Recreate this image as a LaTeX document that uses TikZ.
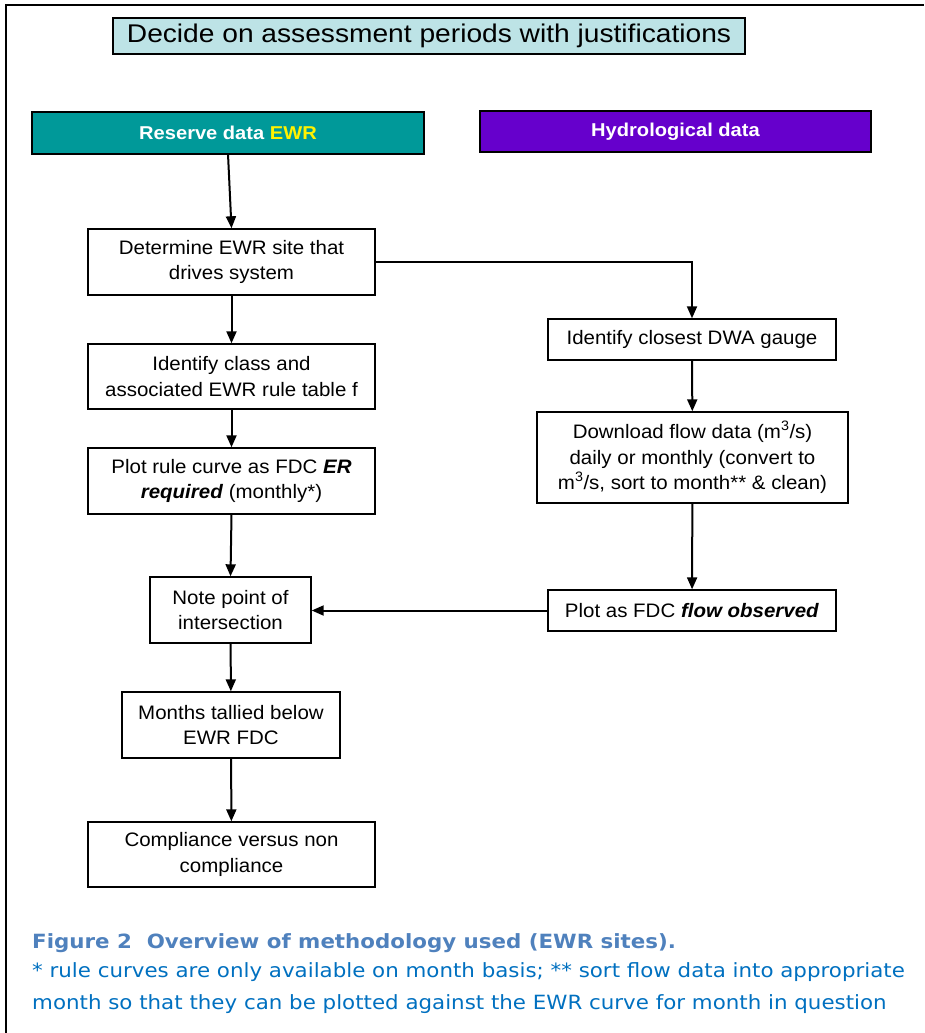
\documentclass[tikz,border=0pt]{standalone}
\usepackage{fontspec}
\setmainfont{Liberation Sans}
\newfontfamily\boxfont[FakeStretch=1.05]{Liberation Sans}
\newfontfamily\titlefont[FakeStretch=1.1]{Liberation Sans}
\newfontfamily\headfont[FakeStretch=1.08]{Liberation Sans}
\newfontfamily\capfont[FakeStretch=1.09]{DejaVu Sans}
\usetikzlibrary{arrows.meta}
\definecolor{titlefill}{HTML}{BDE3E6}
\definecolor{tealfill}{HTML}{009999}
\definecolor{purplefill}{HTML}{6600CC}
\definecolor{capblue}{HTML}{4F81BD}
\definecolor{noteblue}{HTML}{0070C0}
\tikzset{
  box/.style={draw=black, line width=1.4pt, fill=white, align=center, inner sep=0pt, font=\boxfont\fontsize{19.5}{25.5}\selectfont},
  head/.style={draw=black, line width=1.4pt, align=center, inner sep=0pt, text=white, font=\headfont\fontsize{18.6}{22}\selectfont\bfseries},
  arr/.style={line width=2pt, -{Triangle[length=12pt,width=10pt]}},
  captext/.style={anchor=base west, inner sep=0pt, font=\capfont\fontsize{19.6}{23}\selectfont},
  capbold/.style={anchor=base west, inner sep=0pt, font=\capfont\fontsize{19.6}{23}\selectfont\bfseries}
}
\begin{document}
\begin{tikzpicture}[x=1pt,y=-1pt]
\useasboundingbox (0,0) rectangle (924,1033);
\draw[line width=2pt] (6,1033) -- (6,5) -- (924,5);
% title
\node[draw=black, line width=1.4pt, fill=titlefill, inner sep=0pt, minimum width=632pt, minimum height=36pt, font=\titlefont\fontsize{25.6}{30}\selectfont] (title) at (429,36) {Decide on assessment periods with justifications};
% headers
\node[head, fill=tealfill, minimum width=392pt, minimum height=42pt] (res) at (228,133) {Reserve data \textcolor{yellow}{EWR}};
\node[head, fill=purplefill, minimum width=391pt, minimum height=41pt] (hyd) at (675.5,131.5) {Hydrological data};
% left column
\node[box, minimum width=287pt, minimum height=66pt] (det) at (231.5,262) {Determine EWR site that\\drives system};
\node[box, minimum width=287pt, minimum height=65pt] (cls) at (231.5,376.5) {Identify class and\\associated EWR rule table f};
\node[box, minimum width=287pt, minimum height=66pt] (plr) at (231.5,481) {Plot rule curve as FDC \textbf{\textit{ER}}\\\textbf{\textit{required}} (monthly*)};
\node[box, minimum width=161pt, minimum height=66pt] (note) at (230.5,610) {Note point of\\intersection};
\node[box, minimum width=218pt, minimum height=66pt] (mon) at (231,725) {Months tallied below\\EWR FDC};
\node[box, minimum width=287pt, minimum height=65pt] (comp) at (231.5,854.5) {Compliance versus non\\compliance};
% right column
\node[box, minimum width=288pt, minimum height=41pt] (dwa) at (692,339.5) {Identify closest DWA gauge};
\node[box, minimum width=311pt, minimum height=91pt] (dl) at (692.5,457.5) {Download flow data (m\textsuperscript{3}/s)\\daily or monthly (convert to\\m\textsuperscript{3}/s, sort to month** \& clean)};
\node[box, minimum width=288pt, minimum height=41pt] (pfo) at (692,610.5) {Plot as FDC \textbf{\textit{flow observed}}};
% connectors
\coordinate (rs) at (228,154);
\draw[arr] (rs) -- (det.north);
\draw[arr] (det.east) -| (dwa.north);
\draw[arr] (det) -- (cls);
\draw[arr] (cls) -- (plr);
\draw[arr] (plr.south) -- (note.north);
\draw[arr] (note) -- (mon);
\draw[arr] (mon) -- (comp);
\draw[arr] (dwa) -- (dl);
\draw[arr] (dl) -- (pfo);
\draw[arr] (pfo.west) -- (note.east |- pfo.west);
% caption
\node[capbold, text=capblue] (cap) at (32,948) {Figure 2\ \ Overview of methodology used (EWR sites).};
\node[captext, text=noteblue] (n1) at (32,977) {* rule curves are only available on month basis; ** sort flow data into appropriate};
\node[captext, text=noteblue] (n2) at (32,1009) {month so that they can be plotted against the EWR curve for month in question};
\end{tikzpicture}
\end{document}
